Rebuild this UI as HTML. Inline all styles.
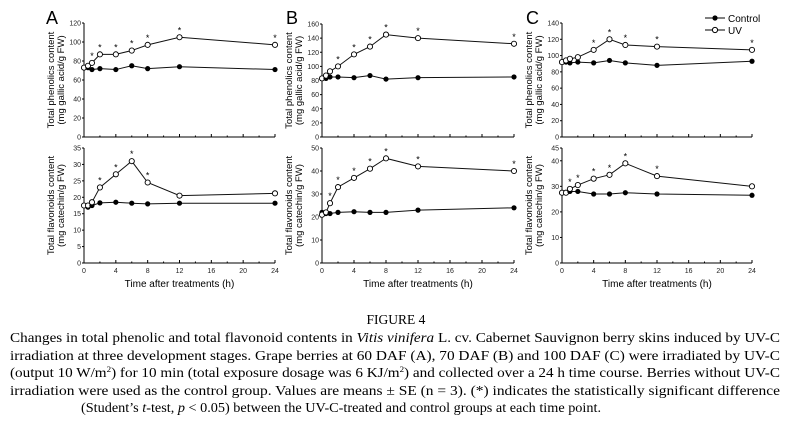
<!DOCTYPE html>
<html><head><meta charset="utf-8"><style>
body{margin:0;background:#fff;width:791px;height:422px;overflow:hidden}
svg{display:block}
</style></head><body>
<svg id="fig" width="791" height="422" xmlns="http://www.w3.org/2000/svg" font-family="Liberation Sans, sans-serif"></svg>
<script>
const times=[0,0.5,1,2,4,6,8,12,24];
const xTicks=[0,4,8,12,16,20,24];
const aPhenUV=[73,75,78,87,87,91,97,105,97];
const aPhenCtl=[73,73,71,72,71,75,72,74,71];
const aFlavUV=[17.5,17.5,18.5,23,27,31,24.5,20.5,21.2];
const aFlavCtl=[17.5,17,17.5,18.3,18.5,18.2,18,18.2,18.2];
const bPhenUV=[83,87,93,100,117,128,145,140,132];
const bPhenCtl=[83,83,85,85,84,87,82,84,85];
const bFlavUV=[21,22,26,33,37,41,45.5,42,40];
const bFlavCtl=[22,21.5,21.5,22,22.3,22,22,23,24];
const cPhenUV=[92,94,96,98,107,120,113,111,107];
const cPhenCtl=[92,92,91,92,91,94,91,88,93];
const cFlavUV=[27.5,27.5,29,30.5,33,34.5,39,34,30];
const cFlavCtl=[27.5,27.5,28,28,27,27,27.5,27,26.5];
const aPhenStars=[1,2,4,6,8,12,24];
const aFlavStars=[2,4,6,8];
const bPhenStars=[2,4,6,8,12,24];
const bFlavStars=[1,2,4,6,8,12,24];
const cPhenStars=[4,6,8,12,24];
const cFlavStars=[1,2,4,6,8,12];
const aPhenTicks=[0,20,40,60,80,100,120];
const aFlavTicks=[0,5,10,15,20,25,30,35];
const bPhenTicks=[0,20,40,60,80,100,120,140,160];
const bFlavTicks=[0,10,20,30,40,50];
const cPhenTicks=[0,20,40,60,80,100,120,140];
const cFlavTicks=[0,10,20,30,40,45];

const svg=document.getElementById('fig');
const NS='http://www.w3.org/2000/svg';
function el(tag,attrs,parent){const e=document.createElementNS(NS,tag);for(const k in attrs)e.setAttribute(k,attrs[k]);(parent||svg).appendChild(e);return e;}
function txt(s,attrs,parent){const e=el('text',attrs,parent);e.textContent=s;return e;}

function plot(name,x0,x1,yTop,yBot,ticks,ymax,uv,ctl,stars,ylab1,ylab2,showX){
  const g=el('g',{});
  
  
  const sx=t=>x0+(x1-x0)*t/24;
  const sy=v=>yBot-(yBot-yTop)*v/ymax;
  el('line',{x1:x0,y1:yTop,x2:x0,y2:yBot,stroke:'#000','stroke-width':1},g);
  el('line',{x1:x0,y1:yBot,x2:x1,y2:yBot,stroke:'#000','stroke-width':1},g);
  ticks.forEach(v=>{
    const y=sy(v);
    el('line',{x1:x0-2,y1:y,x2:x0,y2:y,stroke:'#000'},g);
    const t=txt(String(v),{x:x0-3,y:y+2.5,'font-size':7,'text-anchor':'end',fill:'#222'},g);
    
    
  });
  xTicks.forEach((v,i)=>{
    const x=sx(v);
    el('line',{x1:x,y1:yBot,x2:x,y2:yBot-3,stroke:'#000'},g);
    if(i<xTicks.length-1)el('line',{x1:x+(x1-x0)/12,y1:yBot,x2:x+(x1-x0)/12,y2:yBot-1.5,stroke:'#000'},g);
    if(showX){const t=txt(String(v),{x:x,y:yBot+10,'font-size':7,'text-anchor':'middle',fill:'#222'},g);
      
      }
  });
  const cy=(yTop+yBot)/2;
  const l=txt(ylab1,{x:0,y:0,'font-size':9.5,'text-anchor':'middle',transform:`translate(${x0-30},${cy}) rotate(-90)`},g);
  
  
  txt(ylab2,{x:0,y:0,'font-size':9.5,'text-anchor':'middle',transform:`translate(${x0-20},${cy}) rotate(-90)`},g);
  const ptsC=times.map((t,i)=>sx(t)+','+sy(ctl[i])).join(' ');
  const ptsU=times.map((t,i)=>sx(t)+','+sy(uv[i])).join(' ');
  const pc=el('polyline',{points:ptsC,fill:'none',stroke:'#111','stroke-width':1},g);
  
  
  const pu=el('polyline',{points:ptsU,fill:'none',stroke:'#111','stroke-width':1},g);
  
  
  times.forEach((t,i)=>{
    const c=el('circle',{cx:sx(t),cy:sy(ctl[i]),r:2.6,fill:'#000'},g);
    
    
    const u=el('circle',{cx:sx(t),cy:sy(uv[i]),r:2.6,fill:'#fff',stroke:'#000','stroke-width':0.9},g);
    
    
    if(stars.includes(t)){
      const s=txt('*',{x:sx(t),y:sy(uv[i])-4,'font-size':9,'text-anchor':'middle'},g);
      
      
    }
  });
  if(showX){const t=txt('Time after treatments (h)',{x:(x0+x1)/2,y:yBot+24,'font-size':10,'text-anchor':'middle'},g);
    
    }
}
const P1='Total phenolics content',P2='(mg gallic acid/g FW)',F1='Total flavonoids content',F2='(mg catechin/g FW)';
plot('panel-a-phenolics',84,275,23,137,aPhenTicks,120,aPhenUV,aPhenCtl,aPhenStars,P1,P2,false);
plot('panel-a-flavonoids',84,275,148,263,aFlavTicks,35,aFlavUV,aFlavCtl,aFlavStars,F1,F2,true);
plot('panel-b-phenolics',322,514,24,137,bPhenTicks,160,bPhenUV,bPhenCtl,bPhenStars,P1,P2,false);
plot('panel-b-flavonoids',322,514,148,263,bFlavTicks,50,bFlavUV,bFlavCtl,bFlavStars,F1,F2,true);
plot('panel-c-phenolics',562,752,23,137,cPhenTicks,140,cPhenUV,cPhenCtl,cPhenStars,P1,P2,false);
plot('panel-c-flavonoids',562,752,148,263,cFlavTicks,45,cFlavUV,cFlavCtl,cFlavStars,F1,F2,true);
[['A',46],['B',286],['C',526]].forEach(([s,x])=>{
  const t=txt(s,{x:x,y:24,'font-size':18});
  
  
});
const lg=el('g',{});


el('line',{x1:705,y1:18,x2:725,y2:18,stroke:'#000'},lg);
el('circle',{cx:715,cy:18,r:2.6,fill:'#000'},lg);
txt('Control',{x:728,y:22,'font-size':10},lg);
el('line',{x1:705,y1:30,x2:725,y2:30,stroke:'#000'},lg);
el('circle',{cx:715,cy:30,r:2.6,fill:'#fff',stroke:'#000'},lg);
txt('UV',{x:728,y:34,'font-size':10},lg);
const cap=el('g',{'font-family':'Liberation Serif, serif','font-size':13.5});


txt('FIGURE 4',{x:396,y:324,'text-anchor':'middle'},cap);
const lines=[
 ['Changes in total phenolic and total flavonoid contents in <tspan font-style="italic">Vitis vinifera</tspan> L. cv. Cabernet Sauvignon berry skins induced by UV-C',10,770,342],
 ['irradiation at three development stages. Grape berries at 60 DAF (A), 70 DAF (B) and 100 DAF (C) were irradiated by UV-C',10,770,360],
 ['(output 10 W/m<tspan font-size="8" dy="-5">2</tspan><tspan dy="5">) for 10 min (total exposure dosage was 6 KJ/m</tspan><tspan font-size="8" dy="-5">2</tspan><tspan dy="5">) and collected over a 24 h time course. Berries without UV-C</tspan>',10,770,377],
 ['irradiation were used as the control group. Values are means ± SE (n = 3). (*) indicates the statistically significant difference',10,770,395],
 ['(Student’s <tspan font-style="italic">t</tspan>-test, <tspan font-style="italic">p</tspan> &lt; 0.05) between the UV-C-treated and control groups at each time point.',81,520,412]
];
lines.forEach(([h,x,w,y])=>{
  const t=el('text',{x:x,y:y,textLength:w,lengthAdjust:'spacingAndGlyphs'},cap);
  t.innerHTML=h;
});
</script>
</body></html>
